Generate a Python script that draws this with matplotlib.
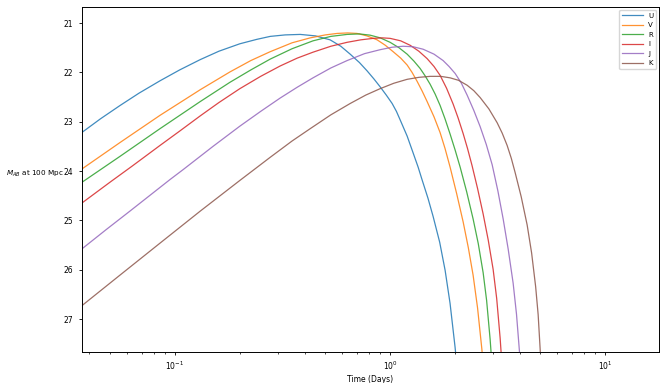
import matplotlib
matplotlib.use('Agg')
import matplotlib.pyplot as plt

# light curves (time in days, AB magnitude at 100 Mpc)
t_U = [0.0368, 0.045, 0.0555, 0.068, 0.0851, 0.105, 0.131, 0.160, 0.200, 0.240,
       0.277, 0.325, 0.382, 0.45, 0.526, 0.59, 0.652, 0.72, 0.782, 0.84,
       0.898, 0.96, 1.022, 1.07, 1.113, 1.20, 1.279, 1.35, 1.409, 1.50,
       1.585, 1.70, 1.802, 1.90, 2.005, 2.049]
m_U = [23.22, 22.94, 22.67, 22.42, 22.17, 21.95, 21.74, 21.57, 21.42, 21.33,
       21.27, 21.24, 21.23, 21.26, 21.34, 21.47, 21.63, 21.80, 21.97, 22.13,
       22.29, 22.46, 22.63, 22.79, 22.96, 23.29, 23.63, 23.92, 24.18, 24.55,
       24.92, 25.44, 26.01, 26.68, 27.57, 27.99]

t_V = [0.0368, 0.0555, 0.0851, 0.131, 0.180, 0.225, 0.277, 0.35, 0.425, 0.50,
       0.567, 0.635, 0.702, 0.78, 0.870, 0.95, 1.033, 1.12, 1.200, 1.265,
       1.335, 1.41, 1.486, 1.60, 1.708, 1.80, 1.901, 2.04, 2.186, 2.31,
       2.432, 2.55, 2.671, 2.722]
m_V = [23.96, 23.42, 22.87, 22.35, 21.99, 21.76, 21.58, 21.40, 21.30, 21.24,
       21.21, 21.20, 21.21, 21.26, 21.34, 21.45, 21.58, 21.71, 21.85, 22.00,
       22.18, 22.38, 22.59, 22.90, 23.22, 23.54, 23.92, 24.46, 25.03, 25.55,
       26.11, 26.77, 27.61, 28.06]

t_R = [0.0368, 0.0555, 0.0851, 0.131, 0.180, 0.225, 0.277, 0.35, 0.438, 0.53,
       0.631, 0.72, 0.807, 0.90, 1.000, 1.10, 1.200, 1.29, 1.379, 1.455,
       1.535, 1.62, 1.708, 1.80, 1.901, 2.005, 2.117, 2.27, 2.432, 2.57,
       2.708, 2.81, 2.918, 2.966, 3.00]
m_R = [24.23, 23.70, 23.14, 22.59, 22.20, 21.95, 21.73, 21.52, 21.36, 21.27,
       21.23, 21.22, 21.245, 21.30, 21.39, 21.50, 21.63, 21.77, 21.92, 22.07,
       22.24, 22.44, 22.67, 22.94, 23.25, 23.57, 23.92, 24.42, 24.97, 25.47,
       26.06, 26.62, 27.41, 27.84, 28.21]

t_I = [0.0368, 0.05, 0.0631, 0.0851, 0.105, 0.131, 0.160, 0.200, 0.250, 0.308,
       0.370, 0.438, 0.53, 0.631, 0.73, 0.834, 0.92, 1.000, 1.12, 1.239,
       1.36, 1.486, 1.60, 1.708, 1.83, 1.963, 2.07, 2.186, 2.29, 2.405,
       2.55, 2.708, 2.86, 3.013, 3.13, 3.249, 3.301, 3.34]
m_I = [24.65, 24.22, 23.90, 23.48, 23.19, 22.88, 22.61, 22.33, 22.08, 21.87,
       21.71, 21.59, 21.47, 21.39, 21.34, 21.31, 21.30, 21.31, 21.36, 21.45,
       21.57, 21.72, 21.88, 22.06, 22.32, 22.64, 22.92, 23.24, 23.54, 23.89,
       24.35, 24.87, 25.40, 25.99, 26.58, 27.39, 27.84, 28.20]

t_J = [0.0368, 0.048, 0.0617, 0.0948, 0.109, 0.150, 0.200, 0.250, 0.308, 0.370,
       0.438, 0.53, 0.631, 0.76, 0.898, 1.02, 1.149, 1.28, 1.424, 1.60,
       1.764, 1.88, 2.005, 2.14, 2.281, 2.45, 2.623, 2.80, 2.982, 3.17,
       3.355, 3.54, 3.733, 3.87, 3.995, 4.068]
m_J = [25.58, 25.18, 24.81, 24.17, 23.97, 23.50, 23.09, 22.79, 22.52, 22.30,
       22.11, 21.91, 21.76, 21.62, 21.54, 21.49, 21.47, 21.48, 21.53, 21.63,
       21.76, 21.88, 22.02, 22.21, 22.46, 22.77, 23.10, 23.46, 23.87, 24.40,
       24.97, 25.58, 26.27, 26.90, 27.66, 28.21]

t_K = [0.0368, 0.055, 0.0851, 0.131, 0.200, 0.277, 0.35, 0.425, 0.53, 0.652,
       0.77, 0.898, 1.04, 1.200, 1.36, 1.535, 1.72, 1.901, 2.08, 2.281,
       2.45, 2.623, 2.88, 3.146, 3.32, 3.501, 3.66, 3.814, 4.07, 4.337,
       4.55, 4.75, 4.88, 4.99, 5.05]
m_K = [26.73, 26.12, 25.46, 24.81, 24.19, 23.72, 23.39, 23.14, 22.86, 22.63,
       22.46, 22.33, 22.22, 22.14, 22.10, 22.08, 22.08, 22.11, 22.16, 22.26,
       22.37, 22.51, 22.74, 23.02, 23.23, 23.48, 23.74, 24.03, 24.52, 25.09,
       25.66, 26.34, 26.91, 27.64, 28.16]

bands = ['U', 'V', 'R', 'I', 'J', 'K']
times = [t_U, t_V, t_R, t_I, t_J, t_K]
mags = [m_U, m_V, m_R, m_I, m_J, m_K]

plt.rcParams['font.size'] = 5.5

fig = plt.figure(figsize=(6.61, 3.83), dpi=100)
ax = fig.add_axes([0.1236, 0.0817, 0.8734, 0.8993])

for band, t, m in zip(bands, times, mags):
    ax.plot(t, m, label=band, linewidth=0.9, alpha=0.85)

ax.set_xscale('log')
ax.set_xlim(0.0368, 17.8)
ax.set_ylim(27.66, 20.68)
ax.set_yticks([21, 22, 23, 24, 25, 26, 27])
ax.tick_params(labelsize=5.5, length=2.5, width=0.6)
ax.tick_params(which='minor', length=1.5, width=0.5)
for s in ax.spines.values():
    s.set_linewidth(0.7)

ax.set_xlabel('Time (Days)', fontsize=5.5, labelpad=2)
ax.set_ylabel('$M_{AB}$ at 100 Mpc', fontsize=5.2, rotation=0)
ax.yaxis.set_label_coords(-0.081, 0.5)

ax.legend(loc='upper right', fontsize=5, handlelength=3, frameon=True,
          borderaxespad=0.4)

fig.savefig('out.png', dpi=100)
